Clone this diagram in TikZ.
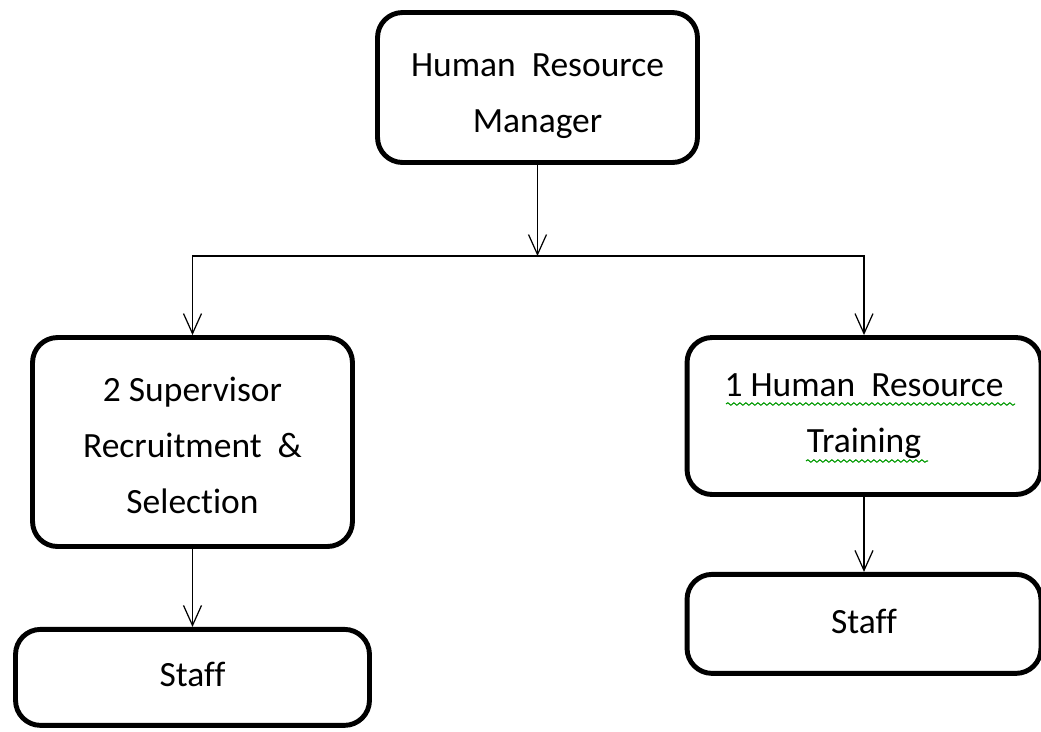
\documentclass[tikz,border=0pt]{standalone}
\usepackage{fontspec}
\setmainfont[Ligatures=NoCommon]{Carlito}
\usetikzlibrary{arrows.meta,positioning,decorations.pathmorphing}

% box text, nudged up or down inside its frame (frame size kept)
\newcommand{\boxtext}[2][0pt]{\raisebox{#1}[\height][\depth]{\begin{tabular}{@{}c@{}}#2\end{tabular}}}

\begin{document}
\begin{tikzpicture}[
  x=0.02cm,y=-0.02cm,
  node distance=15mm,
  every node/.style={font=\fontsize{20.2}{32}\selectfont},
  post/.style={draw,line width=2.8pt,rounded corners=5mm},
  arr/.style={-{Straight Barb[length=4mm,width=3.6mm]},line width=0.7pt},
  spell/.style={draw=green!60!black,line width=0.6pt,decorate,decoration={snake,segment length=1.2mm,amplitude=0.25mm}}
]
\useasboundingbox (0,0) rectangle (1041,731);

\node[post,minimum width=64mm,minimum height=30mm] (hrm) at (537.5,87.5) {\boxtext[-0.11cm]{Human\ \ Resource\\Manager}};
\node[post,minimum width=64mm,minimum height=41.8mm] (sup) at (192.5,442) {\boxtext[-0.09cm]{2 Supervisor\\Recruitment\ \ \&\\Selection}};
\node[post,minimum width=70.8mm,minimum height=31.4mm] (trn) at (864,416) {\boxtext[0.06cm]{1 Human\ \ Resource\\Training}};
\node[post,minimum width=70.8mm,minimum height=19.2mm,below=15.6mm of sup] (supstaff) {\boxtext[0.04cm]{Staff}};
\node[post,minimum width=70.8mm,minimum height=19.8mm,below=15mm of trn] (trnstaff) {\boxtext[0.04cm]{Staff}};

\coordinate (bus) at (537.5,256);
\draw[arr] (hrm) -- (bus);
\draw[arr] (bus) -| (sup);
\draw[arr] (bus) -| (trn);
\draw[arr] (sup) -- (supstaff);
\draw[arr] (trn) -- (trnstaff);

% spell-check squiggles under the training box text
\draw[spell] (726,404) -- (1015,404);
\draw[spell] (806,461) -- (928,461);
\end{tikzpicture}
\end{document}
